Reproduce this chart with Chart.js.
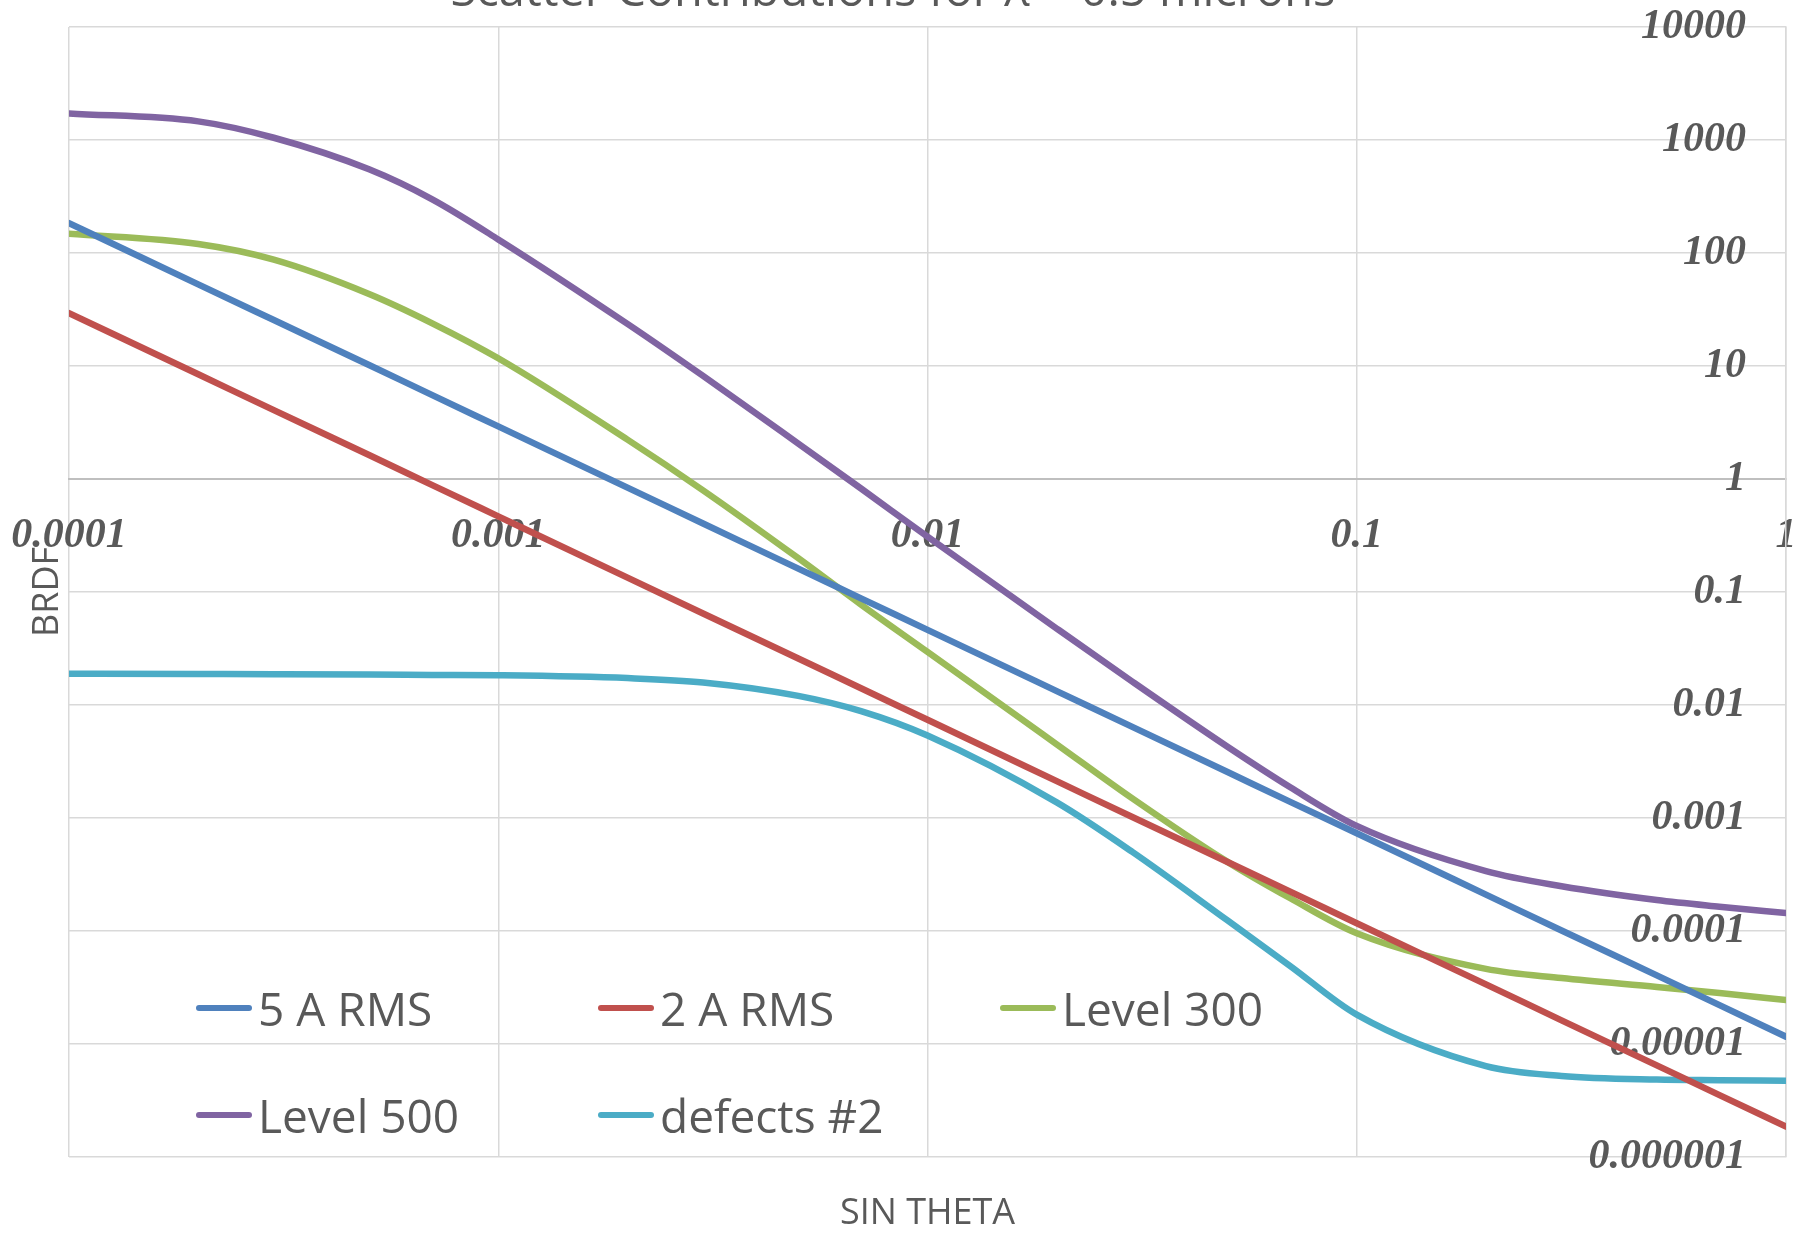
<!DOCTYPE html>
<html>
<head>
<meta charset="utf-8">
<script src="https://cdn.jsdelivr.net/npm/chart.js@4.4.1/dist/chart.umd.min.js"></script>
<style>
  html, body { margin: 0; padding: 0; background: #ffffff; overflow: hidden; }
  #wrap { position: relative; width: 1807px; height: 1240px; }
  canvas { display: block; }
  .leg { position: absolute; display: flex; align-items: center; font-family: 'Open Sans', sans-serif;
         font-size: 46px; line-height: 46px; color: #595959; white-space: nowrap; }
  .leg .sw { display: inline-block; width: 56px; height: 6px; border-radius: 3px; margin-right: 6px; }
</style>
</head>
<body>
<div id="wrap">
  <canvas id="c" width="1807" height="1240"></canvas>
</div>
<script>
// ---------------- data ----------------
const chartTitle = 'Scatter Contributions for \u03BB = 0.5 microns';
const xAxisTitle = 'SIN THETA';
const yAxisTitle = 'BRDF';

const sinTheta = [0.0001, 0.0002, 0.0003, 0.0005, 0.0007,
                  0.001, 0.002, 0.003, 0.005, 0.007,
                  0.01, 0.02, 0.03, 0.05, 0.07,
                  0.1, 0.2, 0.3, 0.5, 0.7, 1];

const rms5A = [184, 52.8, 25.5, 10.2, 5.55,
               2.92, 0.838, 0.404, 0.161, 0.0879,
               0.0462, 0.01327, 0.0064, 0.00255, 0.00139,
               0.000733, 0.00021, 0.000101, 0.0000405, 0.0000221, 0.0000116];

const rms2A = [29.4, 8.45, 4.07, 1.63, 0.888,
               0.467, 0.134, 0.0646, 0.0258, 0.01406,
               0.0074, 0.00212, 0.00102, 0.000408, 0.000223,
               0.000117, 0.0000337, 0.0000162, 0.00000647, 0.00000353, 0.00000186];

const level300 = [148, 120, 87.3, 43.4, 24.0,
                  11.7, 2.23, 0.794, 0.199, 0.0774,
                  0.0295, 0.00449, 0.00149, 0.000409, 0.000195,
                  0.0000955, 0.0000462, 0.0000383, 0.000032, 0.0000283, 0.0000245];

const level500 = [1718, 1462, 1047, 550, 300,
                  132, 23.6, 8.17, 2.06, 0.824,
                  0.309, 0.0475, 0.0161, 0.00427, 0.00187,
                  0.000851, 0.000339, 0.000249, 0.000188, 0.000164, 0.000144];

const defects2 = [0.01892, 0.01879, 0.01871, 0.01858, 0.01845,
                  0.01832, 0.0173, 0.01585, 0.01205, 0.00883,
                  0.00537, 0.001374, 0.000501, 0.000124, 0.000049,
                  0.0000182, 0.00000638, 0.00000522, 0.00000484, 0.00000478, 0.00000473];

const seriesNames  = ['5 A RMS', '2 A RMS', 'Level 300', 'Level 500', 'defects #2'];
const seriesValues = [rms5A, rms2A, level300, level500, defects2];
const seriesColors = ['#4F81BD', '#C0504D', '#9BBB59', '#8064A2', '#4BACC6'];

const xTickValues = [0.0001, 0.001, 0.01, 0.1, 1];
const xTickLabels = ['0.0001', '0.001', '0.01', '0.1', '1'];
const yTickValues = [10000, 1000, 100, 10, 1, 0.1, 0.01, 0.001, 0.0001, 0.00001, 0.000001];
const yTickLabels = ['10000', '1000', '100', '10', '1', '0.1', '0.01', '0.001', '0.0001', '0.00001', '0.000001'];

// ---------------- chart ----------------
const textColor = '#595959';
const tickFont = { family: "'Liberation Serif', 'DejaVu Serif', serif", size: 42, style: 'italic', weight: 'bold' };
const noEdgePadding = s => { s.paddingLeft = 0; s.paddingRight = 0; s.paddingTop = 0; s.paddingBottom = 0; };

const datasets = seriesNames.map((name, i) => ({
  label: name,
  data: sinTheta.map((x, j) => ({ x: x, y: seriesValues[i][j] })),
  borderColor: seriesColors[i],
  backgroundColor: seriesColors[i],
  borderWidth: 6.5,
  pointRadius: 0,
  pointHoverRadius: 0,
  fill: false,
  cubicInterpolationMode: 'monotone',
  borderCapStyle: 'round',
  borderJoinStyle: 'round'
}));

new Chart(document.getElementById('c'), {
  type: 'line',
  data: { datasets: datasets },
  options: {
    responsive: false,
    animation: false,
    devicePixelRatio: 1,
    layout: { padding: { left: 0, right: 21, top: 0, bottom: 0 }, autoPadding: false },
    plugins: {
      legend: { display: false },
      tooltip: { enabled: false },
      title: {
        display: true,
        text: chartTitle,
        color: textColor,
        font: { family: "'Open Sans', sans-serif", size: 47, weight: 'normal', lineHeight: 1 },
        padding: { top: -31, bottom: 11 }
      }
    },
    scales: {
      x: {
        type: 'logarithmic',
        min: 0.0001, max: 1,
        position: { y: 1 },
        afterBuildTicks: s => { s.ticks = xTickValues.map(v => ({ value: v })); },
        afterFit: noEdgePadding,
        ticks: {
          autoSkip: false, maxRotation: 0, minRotation: 0, padding: 32,
          color: textColor, font: tickFont,
          callback: (v, i) => xTickLabels[i]
        },
        grid: { color: '#d9d9d9', lineWidth: 1.5, drawTicks: false },
        border: { color: '#bfbfbf', width: 2 }
      },
      y: {
        type: 'logarithmic',
        min: 0.000001, max: 10000,
        position: 'right',
        afterBuildTicks: s => { s.ticks = yTickValues.map(v => ({ value: v })); },
        afterFit: s => { noEdgePadding(s); s.width = 0; },
        ticks: {
          autoSkip: false, mirror: true, padding: -40,
          color: textColor, font: tickFont,
          callback: (v, i) => yTickLabels[i]
        },
        grid: {
          color: c => (c.tick && c.tick.value === 1) ? '#bfbfbf' : '#d9d9d9',
          lineWidth: c => (c.tick && c.tick.value === 1) ? 2 : 1.5,
          drawTicks: false
        },
        border: { color: '#d9d9d9', width: 1.5 }
      },
      xTitle: {
        type: 'linear', axis: 'x', position: 'bottom', min: 0, max: 1,
        grid: { display: false, drawTicks: false }, border: { display: false },
        ticks: { display: false },
        title: { display: true, text: xAxisTitle, color: textColor,
                 font: { family: "'Open Sans', sans-serif", size: 36 }, padding: { top: 0, bottom: 5 } },
        afterFit: s => { noEdgePadding(s); s.height = 83; }
      },
      yTitle: {
        type: 'linear', axis: 'y', position: 'left', min: 0, max: 1,
        grid: { display: false, drawTicks: false }, border: { display: false },
        ticks: { display: false },
        title: { display: true, text: yAxisTitle, color: textColor,
                 font: { family: "'Open Sans', sans-serif", size: 36 }, padding: { top: 26, bottom: 0 } },
        afterFit: s => { noEdgePadding(s); s.width = 69; }
      }
    }
  }
});

// ---------------- legend (HTML, real text) ----------------
const legendSlots = [
  { left: 196, top: 985 }, { left: 598, top: 985 }, { left: 1000, top: 985 },
  { left: 196, top: 1092 }, { left: 598, top: 1092 }
];
const wrap = document.getElementById('wrap');
seriesNames.forEach((name, i) => {
  const item = document.createElement('div');
  item.className = 'leg';
  item.style.left = legendSlots[i].left + 'px';
  item.style.top = legendSlots[i].top + 'px';
  const sw = document.createElement('span');
  sw.className = 'sw';
  sw.style.background = seriesColors[i];
  const tx = document.createElement('span');
  tx.textContent = name;
  item.appendChild(sw);
  item.appendChild(tx);
  wrap.appendChild(item);
});
</script>
</body>
</html>
